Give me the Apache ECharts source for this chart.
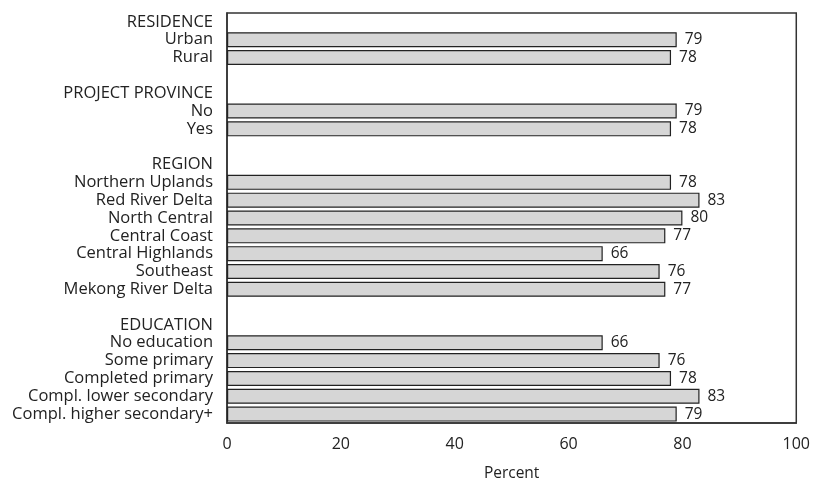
<!DOCTYPE html>
<html><head><meta charset="utf-8">
<script src="https://cdn.jsdelivr.net/npm/echarts@6/dist/echarts.min.js"></script>
<style>html,body{margin:0;padding:0;background:#fff;overflow:hidden}#c{width:813px;height:487px}</style>
</head><body><div id="c"></div>
<script>
const categories = ["RESIDENCE","Urban","Rural","",
  "PROJECT PROVINCE","No","Yes"," ",
  "REGION","Northern Uplands","Red River Delta","North Central","Central Coast","Central Highlands","Southeast","Mekong River Delta","  ",
  "EDUCATION","No education","Some primary","Completed primary","Compl. lower secondary","Compl. higher secondary+"];
const values = [null,79,78,null,
  null,79,78,null,
  null,78,83,80,77,66,76,77,null,
  null,66,76,78,83,79];
const xTicks = [0,20,40,60,80,100];

const font = '"Open Sans", sans-serif';
const chart = echarts.init(document.getElementById('c'), null, {renderer:'canvas', width:813, height:487});
chart.setOption({
  animation:false,
  grid:{left:227,right:16,top:13,bottom:59,show:true,borderColor:'#333',borderWidth:1.5,containLabel:false},
  xAxis:{type:'value',min:xTicks[0],max:xTicks[xTicks.length-1],interval:20,
    name:'Percent',nameLocation:'middle',nameGap:43,
    nameTextStyle:{fontFamily:font,fontSize:15.5,color:'#222'},
    axisLine:{show:true,lineStyle:{color:'#333',width:1.5}},axisTick:{show:false},
    splitLine:{show:false},
    axisLabel:{fontFamily:font,fontSize:16,color:'#222',margin:13}},
  yAxis:{type:'category',data:categories,inverse:true,
    axisLine:{show:true,lineStyle:{color:'#333',width:1.5}},axisTick:{show:false},
    axisLabel:{fontFamily:font,fontSize:16.5,color:'#222',margin:14,interval:0}},
  series:[{type:'bar',data:values,barWidth:15,
    itemStyle:{color:'#d6d6d6',borderColor:'#222',borderWidth:1.2},
    label:{show:true,position:'right',distance:8,fontFamily:font,fontSize:15.5,color:'#222'}}]
});
</script></body></html>
